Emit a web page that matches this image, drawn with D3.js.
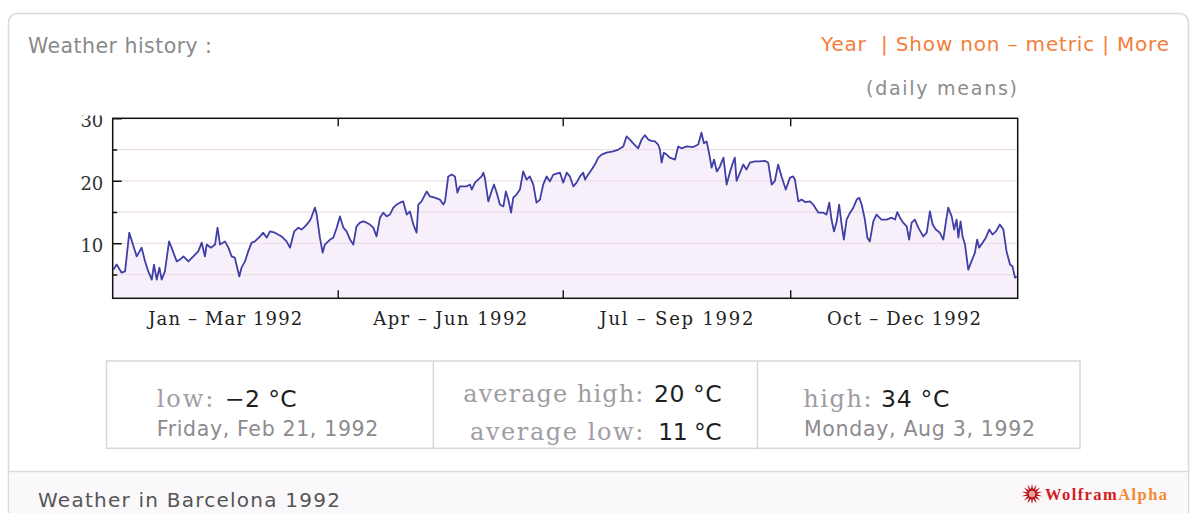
<!DOCTYPE html>
<html>
<head>
<meta charset="utf-8">
<script src="https://cdn.jsdelivr.net/npm/d3@7/dist/d3.min.js"></script>
<style>
  html, body { margin: 0; padding: 0; background: #ffffff; }
  svg { display: block; }
</style>
</head>
<body>
<svg id="chart" width="1191" height="513"></svg>
<script>
// ---------------- DATA ----------------
const chartYear = 1992;
// day offset from Jan 1 1992 and daily mean temperature (°C)
const dayOfYear = [
  0.3,1.6,3.6,5.0,6.7,9.7,11.7,13.1,14.4,15.8,16.7,17.8,18.9,19.8,21.1,22.8,23.8,25.9,27.2,28.6,
  30.6,32.6,34.6,36.0,37.3,38.0,39.7,41.4,42.4,43.4,45.4,46.8,48.1,49.4,51.2,52.1,53.5,54.8,56.2,57.5,
  59.6,60.9,62.3,63.6,65.6,68.3,70.3,71.7,73.4,75.1,76.4,77.8,79.1,80.0,81.8,82.5,83.8,84.9,85.8,
  87.9,89.2,90.6,91.9,93.3,94.6,96.0,97.3,98.6,100.0,101.4,102.7,104.0,105.4,106.7,108.1,109.4,110.8,112.1,113.5,
  114.8,116.2,117.5,118.9,120.2,121.6,122.9,123.6,124.9,127.0,128.3,130.3,132.3,133.7,134.4,135.7,137.1,138.4,139.4,140.4,
  141.8,143.1,144.5,145.2,146.5,147.8,149.2,149.9,150.5,151.9,153.2,154.2,155.3,156.6,158.0,159.0,160.0,161.1,162.0,163.3,
  164.7,166.0,167.4,168.7,170.1,171.4,172.8,174.1,175.5,176.8,178.2,
  180.9,182.2,183.6,184.9,186.3,187.6,189.0,190.3,191.0,192.3,193.7,195.0,196.4,197.7,199.7,202.4,204.5,206.5,207.8,209.2,
  210.5,212.5,213.9,215.2,216.6,217.9,219.3,220.6,221.3,222.0,222.9,224.0,225.3,227.4,228.7,230.1,232.1,234.8,236.8,238.1,
  239.1,240.2,241.3,242.2,243.2,244.3,245.6,247.0,248.3,249.7,251.0,251.6,252.3,253.7,255.0,256.3,257.7,259.7,261.7,263.7,
  265.1,266.5,267.8,269.1,270.5,272.2,
  273.9,275.2,275.9,277.3,278.6,280.0,282.0,283.3,285.4,287.4,288.7,289.8,290.7,291.7,292.8,293.8,294.8,295.7,296.8,298.2,
  299.5,300.9,301.9,302.9,304.2,305.2,306.2,307.6,308.9,310.9,313.0,315.0,316.4,317.3,318.4,319.7,321.1,322.1,323.1,324.4,
  325.8,327.8,329.2,330.5,331.6,332.9,334.5,335.9,337.0,337.9,339.3,340.3,341.3,342.0,342.9,343.7,344.7,346.0,347.3,348.7,
  349.6,350.4,351.8,353.1,354.5,355.8,357.2,358.8,360.2,361.5,362.9,363.9,364.9,365.6
];
const meanTempC = [
  5.8,6.6,5.3,5.5,11.7,7.9,9.3,7.1,5.5,4.2,6.6,4.2,6.1,4.2,5.5,10.3,9.3,7.1,7.4,7.9,
  7.1,7.9,8.7,10.1,7.9,9.8,9.3,9.8,12.5,9.8,10.3,9.3,7.9,7.7,4.7,6.1,7.1,8.7,10.1,10.3,
  11.1,11.7,10.9,11.9,11.7,11.1,10.3,9.3,11.9,12.5,12.2,12.7,13.3,13.8,15.7,14.6,10.9,8.5,9.8,
  10.6,10.9,12.5,14.3,12.5,11.9,10.6,9.8,12.7,13.3,13.5,13.3,13.0,12.5,11.1,14.1,14.9,14.3,14.6,15.7,
  16.2,16.5,16.7,14.6,15.1,13.0,11.7,16.2,16.7,18.3,17.5,17.3,17.0,16.2,16.7,20.7,21.0,20.7,18.1,19.1,
  19.1,19.1,19.4,18.6,19.7,20.2,20.7,21.3,20.5,16.7,18.3,19.4,18.1,16.2,15.9,18.3,17.0,14.9,17.3,17.8,
  18.6,21.5,20.2,20.7,19.4,16.5,17.0,19.4,20.7,19.9,21.0,
  21.3,19.7,21.3,20.7,19.1,19.7,20.7,21.3,20.2,21.0,21.8,22.6,23.7,24.2,24.5,24.7,25.0,25.5,27.1,26.6,
  26.0,25.2,26.6,27.3,26.6,26.4,26.3,25.8,25.0,22.9,24.5,24.2,23.7,23.4,25.5,25.2,25.5,25.4,25.8,27.7,
  26.0,26.3,24.2,22.1,23.4,21.5,22.3,23.7,19.4,21.5,23.1,23.7,20.0,21.3,22.6,21.8,22.9,23.1,23.1,23.2,
  22.9,19.4,20.0,22.6,20.7,18.6,
  20.5,20.7,20.2,16.7,17.0,16.6,16.7,16.2,14.9,14.9,14.6,16.5,13.8,11.9,13.5,16.2,13.0,10.6,13.8,14.9,
  15.7,17.0,17.3,16.2,13.8,10.9,10.3,13.5,14.6,13.8,13.8,14.1,13.8,15.0,14.1,13.3,12.7,10.6,13.3,13.8,
  12.5,11.1,11.7,15.1,13.0,12.2,11.7,10.6,13.5,15.7,14.3,12.2,13.8,10.9,13.5,11.1,9.8,5.8,7.1,8.5,
  10.6,9.3,10.1,10.9,12.2,11.4,11.9,13.0,12.2,8.7,6.6,6.3,4.5,4.7
];
const yMajorTicks = [10, 20, 30];
const yMinorTicks = [5, 15, 25];
const yDomain = [1.2, 30];
const quarterLabels = ["Jan \u2013 Mar 1992", "Apr \u2013 Jun 1992", "Jul \u2013 Sep 1992", "Oct \u2013 Dec 1992"];

const headerTitle = "Weather history :";
const headerLinks = "Year  | Show non \u2013 metric | More";
const subTitle = "(daily means)";
const footerTitle = "Weather in Barcelona 1992";

const lowLabel = "low:", lowValue = "\u22122 \u00B0C", lowDate = "Friday, Feb 21, 1992";
const avgHighLabel = "average high:", avgHighValue = "20 \u00B0C";
const avgLowLabel = "average low:", avgLowValue = "11 \u00B0C";
const highLabel = "high:", highValue = "34 \u00B0C", highDate = "Monday, Aug 3, 1992";

// ---------------- DRAWING ----------------
const svg = d3.select("#chart");
const SANS = "'DejaVu Sans', Verdana, sans-serif";
const SERIF = "'DejaVu Serif', 'Liberation Serif', serif";

function txt(g, s, x, y, o) {
  const t = g.append("text").attr("x", x).attr("y", y).text(s)
    .attr("font-family", o.font || SANS)
    .attr("font-size", o.size)
    .attr("fill", o.fill || "#333")
    .attr("text-anchor", o.anchor || "start");
  if (o.len) t.attr("textLength", o.len).attr("lengthAdjust", "spacing");
  if (o.weight) t.attr("font-weight", o.weight);
  return t;
}

// outer panel
svg.append("rect").attr("x", 8.5).attr("y", 13.5).attr("width", 1180).attr("height", 530)
  .attr("rx", 9).attr("fill", "#ffffff").attr("stroke", "#d9d9d9").attr("stroke-width", 1.5);
// footer band
svg.append("rect").attr("x", 9.3).attr("y", 472).attr("width", 1178.4).attr("height", 60)
  .attr("fill", "#fbf8fb");
svg.append("line").attr("x1", 9).attr("x2", 1188).attr("y1", 471.5).attr("y2", 471.5)
  .attr("stroke", "#dcdcdc").attr("stroke-width", 1.3);

// header texts
txt(svg, headerTitle, 28, 53, { size: 20.5, fill: "#8a8a8a", len: 184 });
txt(svg, headerLinks, 1169, 51, { size: 20, fill: "#f47d3a", anchor: "end", len: 348 }).style("white-space", "pre");
txt(svg, subTitle, 1017, 95, { size: 19, fill: "#8c8c8c", anchor: "end", len: 151 });

// ---------------- plot ----------------
const x0 = 112.7, x1 = 1017.7, yTop = 118.3, yBot = 298.3;
const start = new Date(Date.UTC(chartYear, 0, 1));
const end = new Date(Date.UTC(chartYear + 1, 0, 1));
const x = d3.scaleUtc().domain([start, end]).range([x0, x1]);
const y = d3.scaleLinear().domain(yDomain).range([yBot, yTop]);
const toDate = d => new Date(start.getTime() + d * 864e5);

const pts = dayOfYear.map((d, i) => ({ date: toDate(d), v: meanTempC[i] }));

const defs = svg.append("defs");
defs.append("clipPath").attr("id", "plotclip").append("rect")
  .attr("x", x0).attr("y", yTop).attr("width", x1 - x0).attr("height", yBot - yTop);
defs.append("clipPath").attr("id", "topclip").append("rect")
  .attr("x", 0).attr("y", 115.5).attr("width", 1191).attr("height", 300);

const plot = svg.append("g").attr("clip-path", "url(#plotclip)");

// area fill under line
plot.append("path").datum(pts)
  .attr("d", d3.area().x(d => x(d.date)).y0(yBot).y1(d => y(d.v)))
  .attr("fill", "#f7f0fb");

// gridlines
const gridVals = yMinorTicks.concat(yMajorTicks.slice(0, 2)).sort((a, b) => a - b);
plot.selectAll("line.grid").data(gridVals).join("line")
  .attr("class", "grid")
  .attr("x1", x0).attr("x2", x1)
  .attr("y1", d => y(d)).attr("y2", d => y(d))
  .attr("stroke", "#eddde7").attr("stroke-width", 1.2);

// line
plot.append("path").datum(pts)
  .attr("d", d3.line().x(d => x(d.date)).y(d => y(d.v)))
  .attr("fill", "none").attr("stroke", "#3f3fa6").attr("stroke-width", 1.8)
  .attr("stroke-linejoin", "round");

// y axis (major + minor ticks, inward)
const axG = svg.append("g").attr("clip-path", "url(#topclip)");
const yAxis = d3.axisLeft(y).tickValues(yMajorTicks).tickSize(-9).tickPadding(10)
  .tickFormat(d3.format("d"));
const yg = axG.append("g").attr("transform", `translate(${x0},0)`).call(yAxis);
yg.select(".domain").remove();
yg.selectAll(".tick line").attr("stroke", "#111").attr("stroke-width", 1.4);
yg.selectAll(".tick text").attr("font-family", SERIF).attr("font-size", 18).attr("fill", "#333")
  .attr("dy", "0.47em").attr("x", -9.4);
const yMinor = d3.axisLeft(y).tickValues(yMinorTicks).tickSize(-4.5).tickFormat("");
const ym = axG.append("g").attr("transform", `translate(${x0},0)`).call(yMinor);
ym.select(".domain").remove();
ym.selectAll(".tick line").attr("stroke", "#111").attr("stroke-width", 1.4);

// x ticks at quarter boundaries (top and bottom, inward)
const quarterStarts = d3.utcMonth.every(3).range(start, end).slice(1);
const xb = svg.append("g").attr("transform", `translate(0,${yBot})`)
  .call(d3.axisBottom(x).tickValues(quarterStarts).tickSize(-8).tickFormat(""));
xb.select(".domain").remove();
xb.selectAll(".tick line").attr("stroke", "#111").attr("stroke-width", 1.4);
const xt = svg.append("g").attr("transform", `translate(0,${yTop})`)
  .call(d3.axisTop(x).tickValues(quarterStarts).tickSize(-8).tickFormat(""));
xt.select(".domain").remove();
xt.selectAll(".tick line").attr("stroke", "#111").attr("stroke-width", 1.4);

// frame
svg.append("rect").attr("x", x0).attr("y", yTop).attr("width", x1 - x0).attr("height", yBot - yTop)
  .attr("fill", "none").attr("stroke", "#111").attr("stroke-width", 1.5);

// quarter labels
const qBounds = d3.utcMonth.every(3).range(start, end).concat([end]);
quarterLabels.forEach((lab, i) => {
  const cx = (x(qBounds[i]) + x(qBounds[i + 1])) / 2;
  txt(svg, lab, cx, 325, { font: SERIF, size: 18, fill: "#222", anchor: "middle", len: 154 });
});

// ---------------- stats box ----------------
const box = svg.append("g");
box.append("rect").attr("x", 106.5).attr("y", 361).attr("width", 973.5).attr("height", 87.3)
  .attr("fill", "#fff").attr("stroke", "#d8d8d8").attr("stroke-width", 1.5);
[433.3, 757.5].forEach(xx => box.append("line").attr("x1", xx).attr("x2", xx)
  .attr("y1", 361).attr("y2", 448.3).attr("stroke", "#d8d8d8").attr("stroke-width", 1.5));

const LABC = "#a19ca4", VALC = "#1e1e1e", DATEC = "#8e8a8f";
// col 1
txt(box, lowLabel, 156.7, 406.5, { font: SERIF, size: 24, fill: LABC, len: 56.6 });
txt(box, lowValue, 225, 406.5, { size: 23.5, fill: VALC, len: 71.7 });
txt(box, lowDate, 156.7, 436, { size: 20.5, fill: DATEC, len: 221.6 });
// col 2
txt(box, avgHighLabel, 643.3, 401.5, { font: SERIF, size: 24, fill: LABC, anchor: "end", len: 180 });
txt(box, avgHighValue, 721.7, 401.5, { size: 23.5, fill: VALC, anchor: "end", len: 67.7 });
txt(box, avgLowLabel, 643.3, 440, { font: SERIF, size: 24, fill: LABC, anchor: "end", len: 173.3 });
txt(box, avgLowValue, 721.7, 440, { size: 23.5, fill: VALC, anchor: "end", len: 63.4 });
// col 3
txt(box, highLabel, 803.3, 406.5, { font: SERIF, size: 24, fill: LABC, len: 68.4 });
txt(box, highValue, 881, 406.5, { size: 23.5, fill: VALC, len: 68.3 });
txt(box, highDate, 804, 436, { size: 20.5, fill: DATEC, len: 231 });

// ---------------- footer ----------------
txt(svg, footerTitle, 38, 506.5, { size: 20, fill: "#555", len: 302 });

// Wolfram|Alpha logo
const star = [];
const spikes = 14, cxS = 1032, cyS = 494;
for (let i = 0; i < spikes * 2; i++) {
  const r = i % 2 === 0 ? 10.5 : 4.8;
  const a = (Math.PI * i) / spikes - Math.PI / 2;
  star.push([cxS + r * Math.cos(a), cyS + r * Math.sin(a)]);
}
svg.append("polygon").attr("points", star.map(p => p.join(",")).join(" ")).attr("fill", "#b5171c");
svg.append("circle").attr("cx", cxS).attr("cy", cyS).attr("r", 3.2).attr("fill", "#e9a39c");
const logo = svg.append("text").attr("x", 1045).attr("y", 499.5)
  .attr("font-family", "'Liberation Serif', serif").attr("font-weight", "bold").attr("font-size", 16.5)
  .attr("textLength", 122).attr("lengthAdjust", "spacing");
logo.append("tspan").text("Wolfram").attr("fill", "#d2201c");
logo.append("tspan").text("Alpha").attr("fill", "#f4892f");
</script>
</body>
</html>
